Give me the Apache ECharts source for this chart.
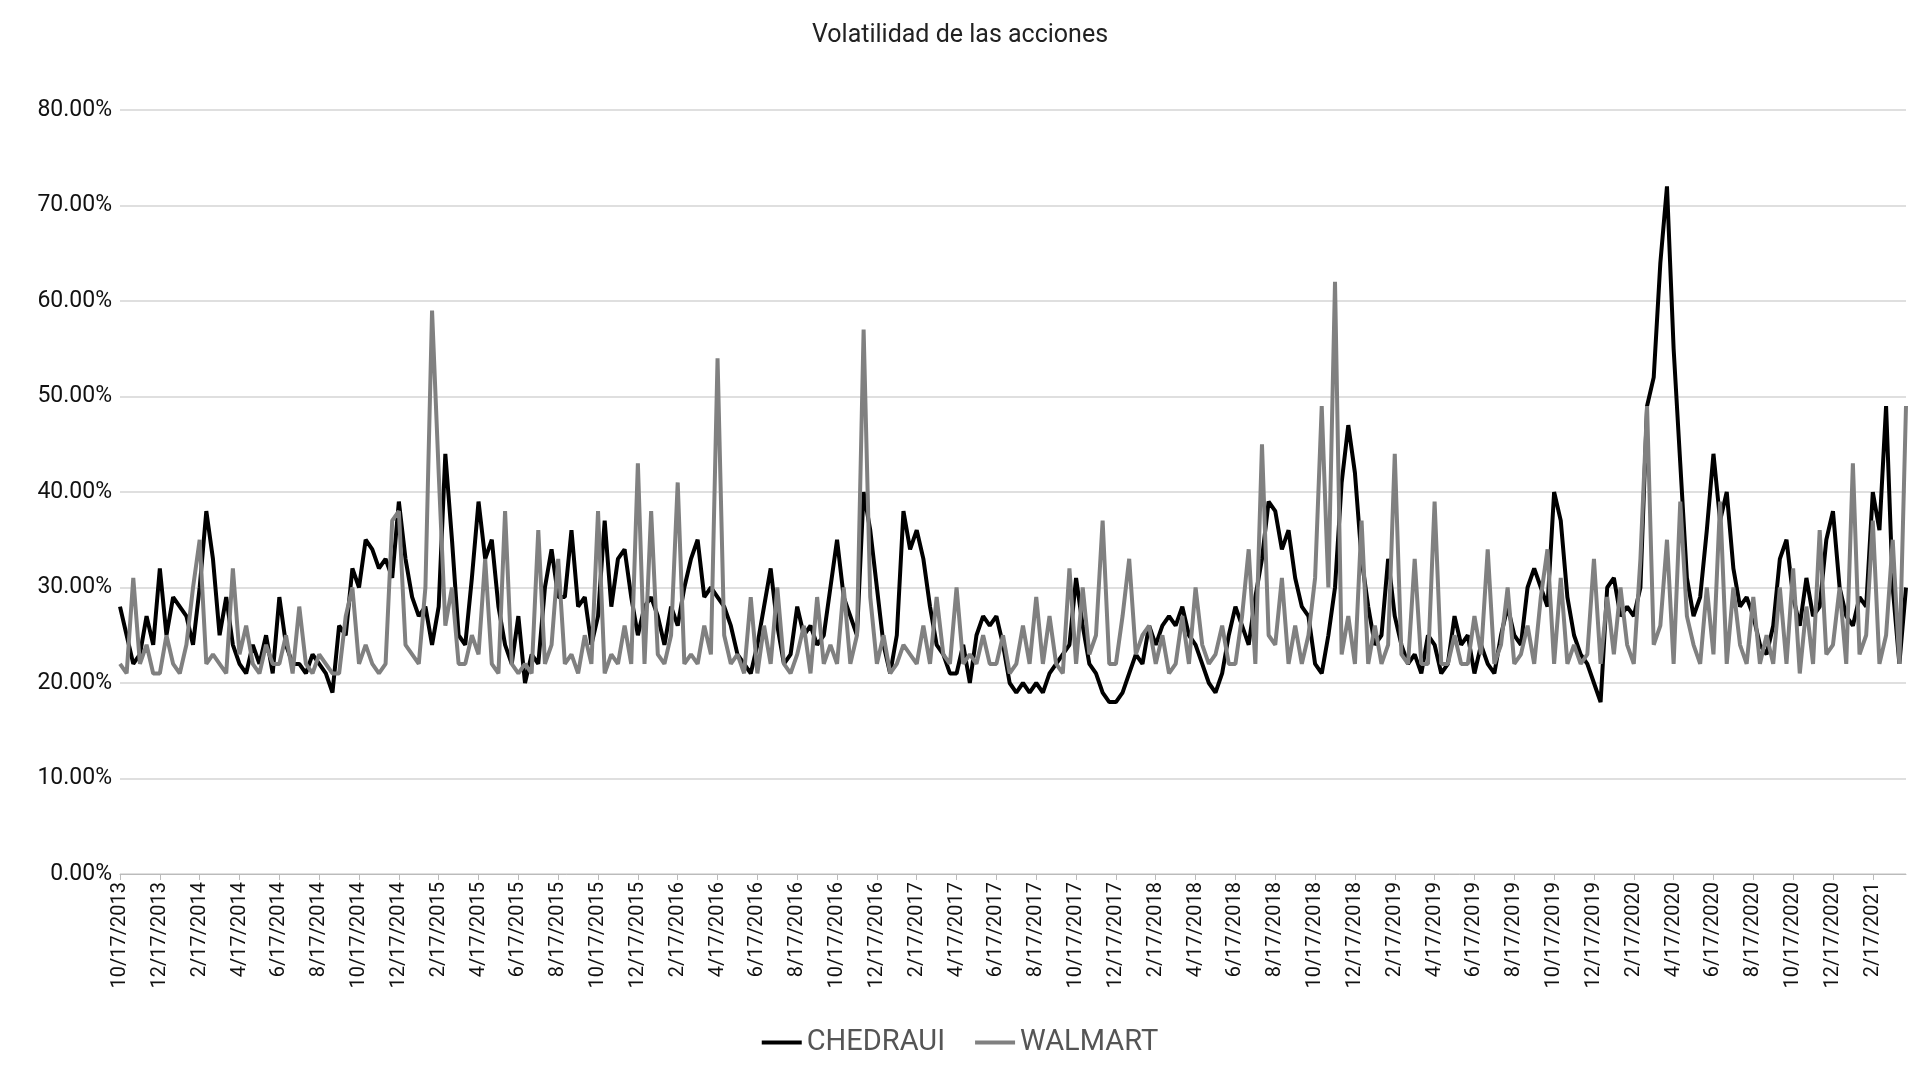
<!DOCTYPE html>
<html><head><meta charset="utf-8">
<script src="https://cdn.jsdelivr.net/npm/echarts@6/dist/echarts.min.js"></script>
<style>html,body{margin:0;padding:0;background:#fff}#c{width:1920px;height:1080px}</style>
</head><body><div id="c"></div>
<script>
const chedraui = [
28,25,22,23,27,24, 32,25,29,28,27,24, 30,38,33,25,29,24, 22,21,24,22,25,21, 29,24,22,22,21,23,
22,21,19,26,25,32, 30,35,34,32,33,31, 39,33,29,27,28,24, 28,44,35,25,24,31, 39,33,35,28,24,22,
27,20,23,22,30,34, 29,29,36,28,29,24, 27,37,28,33,34,29, 25,28,29,27,24,28, 26,30,33,35,29,30,
29,28,26,23,22,21, 24,28,32,26,22,23, 28,25,26,24,25,30, 35,29,27,25,40,36, 30,24,21,25,38,34,
36,33,28,24,23,21, 21,24,20,25,27,26, 27,24,20,19,20,19, 20,19,21,22,23,24, 31,26,22,21,19,18,
18,19,21,23,22,26, 24,26,27,26,28,25, 24,22,20,19,21,25, 28,26,24,29,33,39, 38,34,36,31,28,27,
22,21,25,30,41,47, 42,33,28,24,25,33, 27,24,22,23,21,25, 24,21,22,27,24,25, 21,24,22,21,25,28,
25,24,30,32,30,28, 40,37,29,25,23,22, 20,18,30,31,27,28, 27,30,49,52,64,72, 55,43,31,27,29,36,
44,37,40,32,28,29, 27,24,23,26,33,35, 29,26,31,27,28,35, 38,30,27,26,29,28, 40,36,49,30,22,30];
const walmart = [
22,21,31,22,24,21, 21,25,22,21,24,30, 35,22,23,22,21,32, 23,26,22,21,24,22, 22,25,21,28,22,21,
23,22,21,21,27,30, 22,24,22,21,22,37, 38,24,23,22,30,59, 42,26,30,22,22,25, 23,33,22,21,38,22,
21,22,21,36,22,24, 33,22,23,21,25,22, 38,21,23,22,26,22, 43,22,38,23,22,25, 41,22,23,22,26,23,
54,25,22,23,21,29, 21,26,22,30,22,21, 23,26,21,29,22,24, 22,30,22,25,57,29, 22,25,21,22,24,23,
22,26,22,29,23,22, 30,22,23,22,25,22, 22,25,21,22,26,22, 29,22,27,22,21,32, 22,30,23,25,37,22,
22,27,33,23,25,26, 22,25,21,22,27,22, 30,24,22,23,26,22, 22,27,34,22,45,25, 24,31,22,26,22,25,
31,49,30,62,23,27, 22,37,22,26,22,24, 44,23,22,33,22,22, 39,22,22,25,22,22, 27,23,34,22,24,30,
22,23,26,22,29,34, 22,31,22,24,22,23, 33,22,29,23,30,24, 22,33,49,24,26,35, 22,39,27,24,22,30,
23,39,22,30,24,22, 29,22,25,22,30,22, 32,21,28,22,36,23, 24,30,22,43,23,25, 37,22,25,35,22,49];
const yTicks = [0,10,20,30,40,50,60,70,80];
const dates = [];
{ let y=2013, m=10;
  while (dates.length < chedraui.length) {
    dates.push(m+'/17/'+y);
    if (dates.length < chedraui.length) dates.push(m+'/27/'+y);
    m++; if (m>12){m=1;y++;}
    if (dates.length < chedraui.length) dates.push(m+'/7/'+y);
  } }
const chart = echarts.init(document.getElementById('c'));
chart.setOption({
  animation:false,
  title:{text:'Volatilidad de las acciones',left:'center',top:18,textStyle:{fontFamily:'Roboto',fontWeight:'normal',fontSize:25,color:'#222'}},
  legend:{bottom:18,left:'center',itemWidth:40,itemHeight:4,itemGap:30,icon:'rect',
    textStyle:{fontFamily:'Roboto',fontSize:29,color:'#555'},data:['CHEDRAUI','WALMART']},
  grid:{left:120,right:14,top:110,bottom:206},
  xAxis:{type:'category',data:dates,boundaryGap:false,
    axisLine:{lineStyle:{color:'#bbb'}},
    axisTick:{show:true,interval:(i)=>i%6===0,lineStyle:{color:'#bbb'},length:6},
    axisLabel:{interval:(i)=>i%6===0,rotate:90,fontFamily:'Roboto',fontSize:20,color:'#111'}},
  yAxis:{type:'value',min:0,max:80,interval:10,
    axisLabel:{formatter:v=>v.toFixed(2)+'%',fontFamily:'Roboto',fontSize:23,color:'#111'},
    splitLine:{lineStyle:{color:'#d4d4d4',width:1.5}},axisLine:{show:false},axisTick:{show:false}},
  series:[
    {name:'CHEDRAUI',type:'line',data:chedraui,showSymbol:false,lineStyle:{color:'#000',width:4},itemStyle:{color:'#000'},z:2},
    {name:'WALMART',type:'line',data:walmart,showSymbol:false,lineStyle:{color:'#808080',width:4},itemStyle:{color:'#808080'},z:3}
  ]
});
</script></body></html>
